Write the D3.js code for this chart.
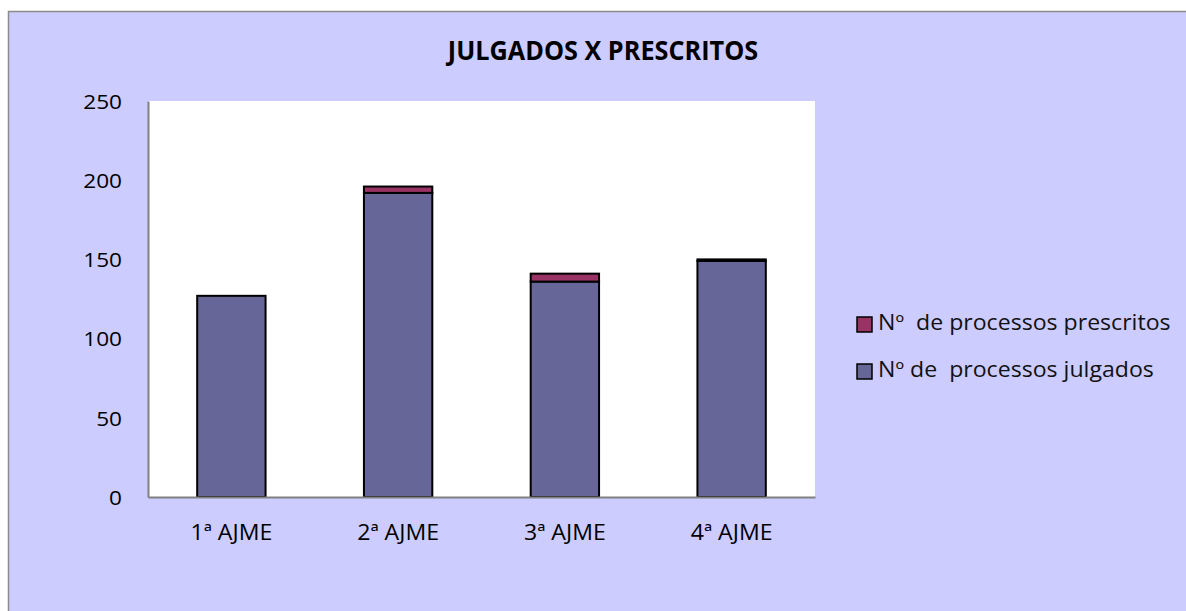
<!DOCTYPE html>
<html>
<head>
<meta charset="utf-8">
<script src="https://cdn.jsdelivr.net/npm/d3@7"></script>
<style>
  body { margin: 0; background: #fff; }
  svg { display: block; font-family: "Open Sans", sans-serif; }
</style>
</head>
<body>
<div id="chart"></div>
<script>
// chart data
var categories = ["1ª AJME", "2ª AJME", "3ª AJME", "4ª AJME"];
var julgados = [127, 192, 136, 149];
var prescritos = [0, 4, 5, 1];
var seriesNames = ["Nº  de processos prescritos", "Nº de  processos julgados"];
var yTicks = [0, 50, 100, 150, 200, 250];

var svgWidth = 1186, svgHeight = 611;
var plot = { left: 148, top: 101, right: 815, bottom: 497 };

// the original text is a bit wider than Open Sans at the same height
function stretch(sel, factor) {
  sel.each(function() {
    var w = this.getComputedTextLength();
    d3.select(this)
      .attr("textLength", w * factor)
      .attr("lengthAdjust", "spacingAndGlyphs");
  });
}

var svg = d3.select("#chart").append("svg")
  .attr("width", svgWidth)
  .attr("height", svgHeight);

// outer chart area
svg.append("rect")
  .attr("x", 8.5).attr("y", 11.5)
  .attr("width", svgWidth).attr("height", svgHeight)
  .attr("fill", "#ccccff")
  .attr("stroke", "#8c8c8c")
  .attr("stroke-width", 1.5);

// plot area
svg.append("rect")
  .attr("x", plot.left).attr("y", plot.top)
  .attr("width", plot.right - plot.left)
  .attr("height", plot.bottom - plot.top)
  .attr("fill", "#ffffff");

var x = d3.scaleBand()
  .domain(categories)
  .range([plot.left, plot.right])
  .paddingInner(0.59)
  .paddingOuter(0.295);

var y = d3.scaleLinear()
  .domain([0, 250])
  .range([plot.bottom, plot.top]);

// title
svg.append("text")
  .attr("x", 603).attr("y", 60)
  .attr("text-anchor", "middle")
  .style("font-size", "27px")
  .style("font-weight", "bold")
  .text("JULGADOS X PRESCRITOS")
  .call(stretch, 0.935);

// stacked bars
var data = categories.map(function(c, i) {
  return { cat: c, j: julgados[i], p: prescritos[i] };
});

var bars = svg.append("g");
bars.selectAll(".julg")
  .data(data)
  .enter().append("rect")
  .attr("class", "julg")
  .attr("x", d => x(d.cat))
  .attr("y", d => y(d.j))
  .attr("width", x.bandwidth())
  .attr("height", d => y(0) - y(d.j))
  .attr("fill", "#666699")
  .attr("stroke", "#000")
  .attr("stroke-width", 2);

bars.selectAll(".presc")
  .data(data.filter(d => d.p > 0))
  .enter().append("rect")
  .attr("class", "presc")
  .attr("x", d => x(d.cat))
  .attr("y", d => y(d.j + d.p))
  .attr("width", x.bandwidth())
  .attr("height", d => y(d.j) - y(d.j + d.p))
  .attr("fill", "#993366")
  .attr("stroke", "#000")
  .attr("stroke-width", 2);

// y axis
var yAxis = svg.append("g")
  .attr("transform", "translate(" + plot.left + ",0)")
  .call(d3.axisLeft(y).tickValues(yTicks).tickSize(0).tickPadding(26));
yAxis.select(".domain").attr("stroke", "#808080").attr("stroke-width", 2);
yAxis.selectAll("text")
  .style("font-family", "'Open Sans', sans-serif")
  .style("font-size", "20px")
  .attr("fill", "#000")
  .attr("dy", "0.36em")
  .call(stretch, 1.13);

// x axis
var xAxis = svg.append("g")
  .attr("transform", "translate(0," + plot.bottom + ")")
  .call(d3.axisBottom(x).tickSize(0).tickPadding(0));
xAxis.select(".domain").attr("stroke", "#808080").attr("stroke-width", 2);
xAxis.selectAll("text")
  .style("font-family", "'Open Sans', sans-serif")
  .style("font-size", "22px")
  .attr("fill", "#000")
  .attr("y", 43)
  .attr("dy", 0)
  .call(stretch, 1.05);

// legend
var legendColors = ["#993366", "#666699"];
var legend = svg.append("g").selectAll("g")
  .data(seriesNames)
  .enter().append("g")
  .attr("transform", (d, i) => "translate(857," + (317 + i * 47) + ")");
legend.append("rect")
  .attr("width", 15).attr("height", 15)
  .attr("fill", (d, i) => legendColors[i])
  .attr("stroke", "#000")
  .attr("stroke-width", 1.5);
legend.append("text")
  .attr("x", 21).attr("y", 13)
  .style("font-size", "21px")
  .attr("fill", "#111")
  .style("white-space", "pre")
  .attr("xml:space", "preserve")
  .text(d => d)
  .call(stretch, 1.1);
</script>
</body>
</html>
